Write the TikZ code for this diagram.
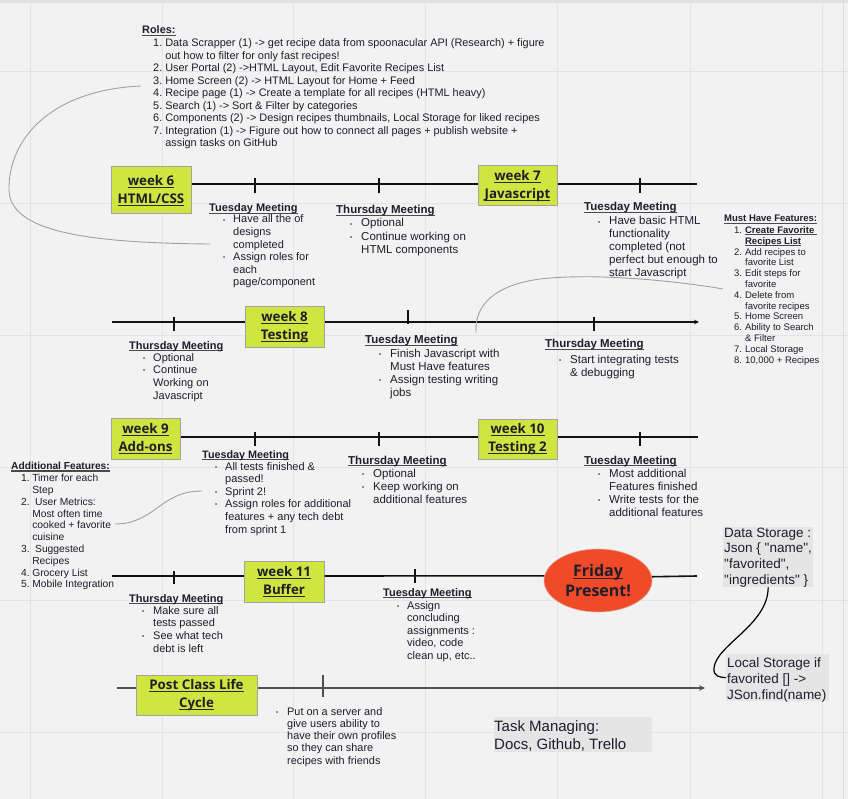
\documentclass[tikz,border=0pt]{standalone}
\usepackage{fontspec}
\setmainfont{Liberation Sans}
\newfontfamily\rawfont{Liberation Sans}
\newfontfamily\wkfont{Open Sans}
\usetikzlibrary{arrows.meta,shapes.geometric}
\definecolor{bgc}{HTML}{F2F2F2}
\definecolor{gridc}{HTML}{E4E4E4}
\definecolor{ink}{HTML}{1E1E2C}
\definecolor{wkfill}{HTML}{CFE640}
\definecolor{wkborder}{HTML}{A3A3A3}
\definecolor{wkul}{HTML}{2A2A2A}
\definecolor{ulc}{HTML}{4A4A4A}
\definecolor{fric}{HTML}{F04A28}
\definecolor{frib}{HTML}{E2A898}
\definecolor{storec}{HTML}{E5E5E5}
\definecolor{curvec}{HTML}{A0A0A0}
\definecolor{tlfive}{HTML}{505050}
\newlength\bw
\newcommand\fs[2]{\fontsize{#1}{#2}\selectfont}
\newcommand\bul{\makebox[\bw][l]{\raisebox{0.9pt}{\fontsize{6}{6}\selectfont\textbullet}}}
\newcommand\ind{\hspace*{\bw}}
\newcommand\ul[1]{\setbox0\hbox{#1}\leavevmode\rlap{\color{ulc}\rule[-2pt]{\wd0}{1.1pt}}\box0}
\newcommand\ulw[1]{\setbox0\hbox{#1}\leavevmode\rlap{\color{wkul}\rule[-2.8pt]{\wd0}{1.4pt}}\box0}
\begin{document}
\begin{tikzpicture}[x=1pt,y=-1pt,
  every node/.style={inner sep=0pt,text=ink},
  wk/.style={draw=wkborder,fill=wkfill,line width=1pt,align=center,
    font=\wkfont\bfseries\fontsize{13.3}{18}\selectfont,text=wkink},
  hd/.style={anchor=base west,font=\bfseries},
  lst/.style={anchor=base west},
  tl/.style={line width=1.6pt,draw=black!93},
  tick/.style={line width=1.5pt,draw=black!93},
  curve/.style={draw=curvec,line width=0.9pt},
  store/.style={fill=storec,draw=none},
  stxt/.style={anchor=base west,font=\rawfont}
]
\colorlet{wkink}{ink}
\useasboundingbox (0,0) rectangle (848,799);
\fill[bgc] (0,0) rectangle (848,799);
\foreach \gx in {30,162,293,425,557,690,822} \draw[gridc,line width=0.8pt] (\gx,0) -- (\gx,799);
\foreach \gy in {71,203,335,467,600,732} \draw[gridc,line width=0.8pt] (0,\gy) -- (848,\gy);
\fill[black!12] (0,0) rectangle (848,3);
\draw[black!14,line width=1pt] (843,0) -- (843,799);

% ---------- Roles ----------
\node[hd] (rolesh) at (142,34) {\fs{10.9}{12.5}\ul{Roles:}};
\node[lst] (roles) at (153,47) {\fs{10.9}{12.5}\begin{tabular}[t]{@{}r@{\hspace{3pt}}l@{}}1.&Data Scrapper (1) -> get recipe data from spoonacular API (Research) + figure\\ &out how to filter for only fast recipes!\\2.&User Portal (2) ->HTML Layout, Edit Favorite Recipes List\\3.&Home Screen (2) -> HTML Layout for Home + Feed\\4.&Recipe page (1) -> Create a template for all recipes (HTML heavy)\\5.&Search (1) -> Sort \& Filter by categories\\6.&Components (2) -> Design recipes thumbnails, Local Storage for liked recipes\\7.&Integration (1) -> Figure out how to connect all pages + publish website +\\ &assign tasks on GitHub\end{tabular}};

% ---------- Must have ----------
\node[hd] (musth) at (724,222) {\fs{9.5}{10.8}\ul{Must Have Features:}};
\node[lst] (must) at (734,233.5) {\fs{9.5}{10.8}\begin{tabular}[t]{@{}r@{\hspace{3pt}}l@{}}1.&\ul{\textbf{Create Favorite }}\\ &\ul{\textbf{Recipes List}}\\2.&Add recipes to\\ &favorite List\\3.&Edit steps for\\ &favorite\\4.&Delete from\\ &favorite recipes\\5.&Home Screen\\6.&Ability to Search\\ &\& Filter\\7.&Local Storage\\8.&10,000 + Recipes\end{tabular}};

% ---------- Additional ----------
\node[hd] (addh) at (11,469.5) {\fs{10.2}{11.8}\ul{Additional Features:}};
\node[lst] (add) at (21,481.7) {\fs{10.3}{11.8}\begin{tabular}[t]{@{}r@{\hspace{2.5pt}}l@{}}1.&Timer for each\\ &Step\\2.&\ User Metrics:\\ &Most often time\\ &cooked + favorite\\ &cuisine\\3.&\ Suggested\\ &Recipes\\4.&Grocery List\\5.&Mobile Integration\end{tabular}};

% ---------- Week boxes ----------
\node[wk,minimum width=80,minimum height=47] (w6) at (151,190.5) {\ulw{week 6}\\\ulw{HTML/CSS}};
\node[wk,minimum width=79,minimum height=40] (w7) at (517.5,186) {\ulw{week 7}\\\ulw{Javascript}};
\node[wk,minimum width=79,minimum height=40] (w8) at (284.5,327) {\ulw{week 8}\\\ulw{Testing}};
\node[wk,minimum width=69,minimum height=41] (w9) at (145.5,438.5) {\ulw{week 9}\\\ulw{Add-ons}};
\node[wk,minimum width=79,minimum height=40] (w10) at (517.5,439) {\ulw{week 10}\\\ulw{Testing 2}};
\node[wk,minimum width=80,minimum height=41] (w11) at (284,581.5) {\ulw{week 11}\\\ulw{Buffer}};
\node[wk,minimum width=121,minimum height=40] (pc) at (196.5,695) {\ulw{Post Class Life}\\\ulw{Cycle}};
\node[ellipse,fill=fric,draw=frib,line width=0.6pt,minimum width=108,minimum height=63,align=center,
  font=\wkfont\bfseries\fontsize{16}{20}\selectfont] (fri) at (598,580.5) {\ulw{Friday}\\Present!};

% ---------- Timelines ----------
\coordinate (e1) at (697,184);
\coordinate (s2) at (112,322); \coordinate (e2) at (699,322);
\coordinate (e3) at (698,437);
\coordinate (s4) at (112,576); \coordinate (e4) at (697,576);
\coordinate (s5) at (117,688); \coordinate (e5) at (705,688);
\draw[tl] (w6.east |- e1) -- (w7.west |- e1);
\draw[tl] (w7.east |- e1) -- (e1);
\draw[tl] (s2) -- (w8.west |- s2);
\draw[tl,-{Stealth[length=5pt,width=4.5pt]}] (w8.east |- s2) -- (e2);
\draw[tl] (w9.east |- e3) -- (w10.west |- e3);
\draw[tl] (w10.east |- e3) -- (e3);
\draw[tl] (s4) -- (w11.west |- s4);
\draw[tl] (w11.east |- s4) -- (fri.175.2);
\draw[tl] (fri.4.8) -- (e4);
\draw[line width=2.2pt,draw=tlfive] (s5) -- (pc.west |- s5);
\draw[line width=2.2pt,draw=tlfive,-{Stealth[length=6pt,width=5.5pt]}] (pc.east |- s5) -- (e5);
\foreach \tx in {255,379,640} \draw[tick] (\tx,178.5) -- (\tx,193);
\foreach \tx in {174,594} \draw[tick] (\tx,317) -- (\tx,331);
\draw[tick] (408,310) -- (408,324);
\foreach \tx in {255,379,640} \draw[tick] (\tx,432) -- (\tx,446);
\draw[tick] (174,571) -- (174,584);
\draw[tick] (415,569) -- (415,583);
\draw[line width=2.2pt,draw=tlfive] (323,675) -- (323,697);

% ---------- Row 1 ----------
\node[hd] (h1a) at (209,212) {\fs{11}{13}\ul{Tuesday Meeting}};
\node[lst] (l1a) at (223,223) {\fs{11}{12.6}\setlength\bw{10pt}\begin{tabular}[t]{@{}l@{}}\bul Have all the of\\\ind designs\\\ind completed\\\bul Assign roles for\\\ind each\\\ind page/component\end{tabular}};
\node[hd] (h1b) at (336,214) {\fs{11.5}{13}\ul{Thursday Meeting}};
\node[lst] (l1b) at (350,227) {\fs{11.5}{13.5}\setlength\bw{11pt}\begin{tabular}[t]{@{}l@{}}\bul Optional\\\bul Continue working on\\\ind HTML components\end{tabular}};
\node[hd] (h1c) at (584,211) {\fs{11.5}{13}\ul{Tuesday Meeting}};
\node[lst] (l1c) at (598,225) {\fs{11.5}{13}\setlength\bw{11pt}\begin{tabular}[t]{@{}l@{}}\bul Have basic HTML\\\ind functionality\\\ind completed (not\\\ind perfect but enough to\\\ind start Javascript\end{tabular}};

% ---------- Row 2 ----------
\node[hd] (h2a) at (129,349) {\fs{11}{13}\ul{Thursday Meeting}};
\node[lst] (l2a) at (143,361) {\fs{11}{12.8}\setlength\bw{10pt}\begin{tabular}[t]{@{}l@{}}\bul Optional\\\bul Continue\\\ind Working on\\\ind Javascript\end{tabular}};
\node[hd] (h2b) at (365,344) {\fs{11.5}{13}\ul{Tuesday Meeting}};
\node[lst] (l2b) at (379,357) {\fs{11.5}{13.3}\setlength\bw{11pt}\begin{tabular}[t]{@{}l@{}}\bul Finish Javascript with\\\ind Must Have features\\\bul Assign testing writing\\\ind jobs\end{tabular}};
\node[hd] (h2c) at (545,348) {\fs{11.5}{13}\ul{Thursday Meeting}};
\node[lst] (l2c) at (559,363) {\fs{11.5}{13.3}\setlength\bw{11pt}\begin{tabular}[t]{@{}l@{}}\bul Start integrating tests\\\ind \& debugging\end{tabular}};

% ---------- Row 3 ----------
\node[hd] (h3a) at (202,458) {\fs{10.8}{13}\ul{Tuesday Meeting}};
\node[lst] (l3a) at (215,470) {\fs{11}{12.6}\setlength\bw{10pt}\begin{tabular}[t]{@{}l@{}}\bul All tests finished \&\\\ind passed!\\\bul Sprint 2!\\\bul Assign roles for additional\\\ind features + any tech debt\\\ind from sprint 1\end{tabular}};
\node[hd] (h3b) at (348,464) {\fs{11.5}{13}\ul{Thursday Meeting}};
\node[lst] (l3b) at (362,477) {\fs{11.5}{13.2}\setlength\bw{11pt}\begin{tabular}[t]{@{}l@{}}\bul Optional\\\bul Keep working on\\\ind additional features\end{tabular}};
\node[hd] (h3c) at (584,464) {\fs{11.5}{13}\ul{Tuesday Meeting}};
\node[lst] (l3c) at (598,477) {\fs{11.5}{13}\setlength\bw{11pt}\begin{tabular}[t]{@{}l@{}}\bul Most additional\\\ind Features finished\\\bul Write tests for the\\\ind additional features\end{tabular}};

% ---------- Row 4 ----------
\node[hd] (h4a) at (129,602) {\fs{11}{13}\ul{Thursday Meeting}};
\node[lst] (l4a) at (142,614) {\fs{11}{12.7}\setlength\bw{11pt}\begin{tabular}[t]{@{}l@{}}\bul Make sure all\\\ind tests passed\\\bul See what tech\\\ind debt is left\end{tabular}};
\node[hd] (h4b) at (383,596) {\fs{11}{13}\ul{Tuesday Meeting}};
\node[lst] (l4b) at (397,609) {\fs{11}{12.5}\setlength\bw{10pt}\begin{tabular}[t]{@{}l@{}}\bul Assign\\\ind concluding\\\ind assignments :\\\ind video, code\\\ind clean up, etc..\end{tabular}};

% ---------- Row 5 ----------
\node[lst] (l5) at (276,715) {\fs{10.9}{12.3}\setlength\bw{11pt}\begin{tabular}[t]{@{}l@{}}\bul Put on a server and\\\ind give users ability to\\\ind have their own profiles\\\ind so they can share\\\ind recipes with friends\end{tabular}};

% ---------- Storage notes ----------
\node[store,anchor=north west,minimum width=90,minimum height=60] (ds) at (723,527) {};
\node[stxt] (dst) at (724,537) {\fs{13.5}{15.7}\begin{tabular}[t]{@{}l@{}}Data Storage :\\Json \{ "name",\\"favorited",\\"ingredients" \}\end{tabular}};
\node[store,anchor=north west,minimum width=103,minimum height=47] (ls) at (726,654) {};
\node[stxt] (lst) at (727,667) {\fs{13.5}{16}\begin{tabular}[t]{@{}l@{}}Local Storage if\\favorited [] ->\\JSon.find(name)\end{tabular}};
\node[store,anchor=north west,minimum width=158,minimum height=35] (tm) at (494,717) {};
\node[stxt] (tmt) at (494,731.5) {\fs{15}{18}\begin{tabular}[t]{@{}l@{}}Task Managing:\\Docs, Github, Trello\end{tabular}};

% ---------- Curves ----------
\coordinate (c1s) at (141,86); \coordinate (c1e) at (210,244);
\draw[curve] (c1s) .. controls (50,90) and (8,140) .. (9,190) .. controls (10,230) and (80,243) .. (c1e);
\coordinate (c2s) at (723,289); \coordinate (c2e) at (476,333);
\draw[curve] (c2s) .. controls (690,283) and (600,272) .. (540,279) .. controls (495,285) and (474,305) .. (c2e);
\coordinate (c3s) at (115,524); \coordinate (c3e) at (202,491);
\draw[curve] (c3s) .. controls (155,524) and (160,491) .. (c3e);
\draw[black,line width=1.2pt] (ds.south) .. controls (768,625) and (716,645) .. (714,668) .. controls (713,677) and (720,677) .. (ls.west);
\end{tikzpicture}
\end{document}
